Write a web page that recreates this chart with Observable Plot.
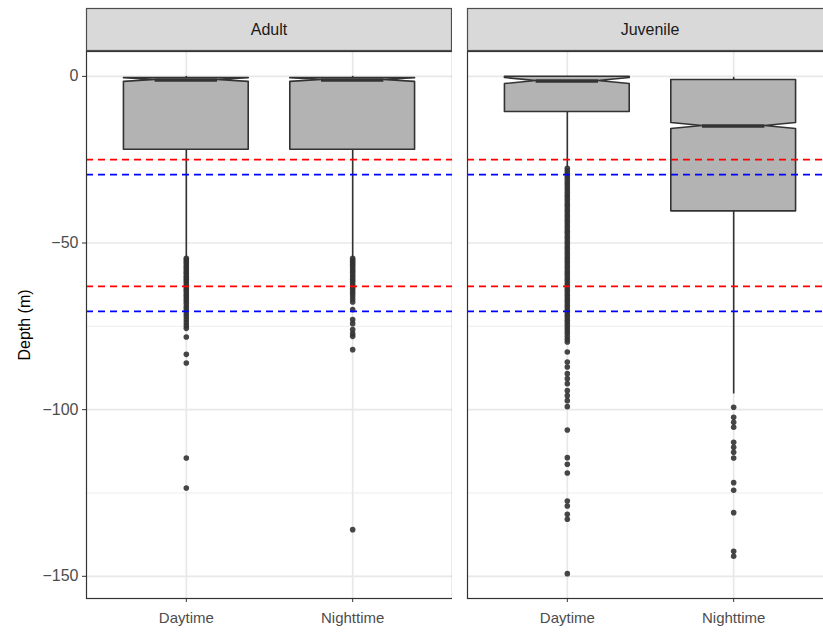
<!DOCTYPE html>
<html><head><meta charset="utf-8">
<script src="https://cdn.jsdelivr.net/npm/d3@7"></script>
<script src="https://cdn.jsdelivr.net/npm/@observablehq/plot@0.6"></script>
<style>
body{margin:0;background:#fff;overflow:hidden;}
#row{display:flex;width:823px;height:633px;overflow:hidden;}
#row svg{display:block;flex:none;}
g[aria-label="y-axis tick"], g[aria-label="x-axis tick"]{color:#333;}
g[aria-label="y-axis label"] text{fill:#000;}
</style></head><body><div id="row"></div>
<script>
// ---- data ----
const panels = ["Adult", "Juvenile"];
const timeLabels = ["Daytime", "Nighttime"];
const boxPanel = ["Adult", "Adult", "Juvenile", "Juvenile"];
const boxTime = ["Daytime", "Nighttime", "Daytime", "Nighttime"];
const q1 = [-22.0, -22.0, -10.7, -40.5];
const median = [-1.1, -1.1, -1.4, -14.9];
const q3 = [-0.5, -0.5, -0.1, -1.1];
const notchHalf = [0.55, 0.55, 0.9, 0.9];
const whiskerLow = [-54.5, -54.5, -27.4, -95.3];
const whiskerHigh = [0, 0, 0, -0.3];

const adultDayOut = [-54.6,-55.1,-55.7,-56.2,-56.9,-57.4,-58.0,-58.6,-59.1,-59.8,-60.3,-60.9,-61.4,-62.0,-62.7,-63.2,-63.8,-64.3,-64.9,-65.6,-66.1,-66.8,-67.4,-68.1,-68.9,-69.6,-70.4,-71.3,-72.1,-73.0,-73.9,-74.8,-75.6,-78.2,-83.4,-86.0,-114.5,-123.5];
const adultNightOut = [-54.6,-55.2,-55.8,-56.4,-57.0,-57.7,-58.3,-58.9,-59.6,-60.2,-60.9,-61.5,-62.2,-62.9,-63.6,-64.3,-65.1,-65.9,-66.8,-67.7,-70.0,-73.0,-74.2,-76.0,-77.2,-78.0,-82.0,-136.0];
const juvDayOut = [-27.6,-28.3,-29.1,-29.8,-30.4,-31.2,-31.9,-32.5,-33.3,-34.0,-34.8,-35.5,-36.1,-36.9,-37.6,-38.4,-39.0,-39.8,-40.5,-41.3,-42.0,-42.8,-43.5,-44.2,-45.0,-45.7,-46.5,-47.1,-47.9,-48.6,-49.4,-50.1,-50.9,-51.6,-52.3,-53.1,-53.8,-54.6,-55.3,-56.0,-56.8,-57.5,-58.3,-59.0,-59.7,-60.5,-61.2,-62.0,-62.7,-63.5,-64.2,-64.9,-65.7,-66.4,-67.2,-67.9,-68.7,-69.4,-70.2,-70.9,-71.7,-72.4,-73.2,-73.9,-74.7,-75.5,-76.3,-77.1,-78.0,-78.9,-79.7,-82.7,-85.7,-87.2,-89.2,-90.7,-92.2,-94.3,-95.8,-97.3,-99.1,-106.1,-114.4,-116.4,-119.0,-127.4,-128.9,-131.4,-132.9,-149.2];
const juvNightOut = [-99.3,-102.3,-103.8,-105.3,-109.8,-111.3,-112.8,-114.5,-121.9,-124.2,-130.9,-142.5,-144.0];
const outliers = [adultDayOut, adultNightOut, juvDayOut, juvNightOut];

const refDepths = [-25, -29.5, -63, -70.5];
const refColors = ["#ff0000", "#0000ff", "#ff0000", "#0000ff"];
const yTicks = [0, -50, -100, -150];
const yMinor = [-25, -75, -125];

// ---- derived tables ----
const xpos = t => timeLabels.indexOf(t) + 1;
const HALF = 0.375, INDENT = 0.1875;
const boxes = boxPanel.map((p, i) => ({
  id: i, panel: p, time: boxTime[i], x: xpos(boxTime[i]),
  q1: q1[i], med: median[i], q3: q3[i], nh: notchHalf[i],
  lo: whiskerLow[i], hi: whiskerHigh[i]
}));
const polys = boxes.flatMap(b => [
  {id: b.id, panel: b.panel, y: b.q3, x1: b.x - HALF, x2: b.x + HALF},
  {id: b.id, panel: b.panel, y: b.med + b.nh, x1: b.x - HALF, x2: b.x + HALF},
  {id: b.id, panel: b.panel, y: b.med, x1: b.x - HALF + INDENT, x2: b.x + HALF - INDENT},
  {id: b.id, panel: b.panel, y: b.med - b.nh, x1: b.x - HALF, x2: b.x + HALF},
  {id: b.id, panel: b.panel, y: b.q1, x1: b.x - HALF, x2: b.x + HALF}
]);
const dots = boxes.flatMap((b, i) => outliers[i].map(v => ({panel: b.panel, x: b.x, y: v})));
const refs = refDepths.map((d, i) => ({y: d, color: refColors[i]}));

const allY = [...dots.map(d => d.y), ...whiskerHigh, ...q3];
const yMin = d3.min(allY), yMax = d3.max(allY), pad = (yMax - yMin) * 0.05;
const yDomain = [yMin - pad, yMax + pad];

function panelPlot(panel, first) {
  const ml = first ? 86 : 15;
  const bx = boxes.filter(b => b.panel === panel);
  const strip = (index, scales, values, dims) => {
    const g = d3.create("svg:g");
    const x0 = dims.marginLeft, x1 = dims.width - dims.marginRight;
    g.append("rect").attr("x", x0 + 0.5).attr("y", 8.5).attr("width", x1 - x0 - 1).attr("height", dims.marginTop - 9)
      .attr("fill", "#d9d9d9").attr("stroke", "#4d4d4d").attr("stroke-width", 1.2);
    g.append("text").attr("x", (x0 + x1) / 2).attr("y", (8 + dims.marginTop) / 2).attr("dy", "0.35em")
      .attr("text-anchor", "middle").attr("fill", "#1a1a1a").style("font-size", "16px").text(panel);
    return g.node();
  };
  return Plot.plot({
    width: ml + 366, height: 633,
    marginLeft: ml, marginRight: 0, marginTop: 51, marginBottom: 35,
    style: {fontFamily: "'Liberation Sans', Arial, sans-serif", fontSize: "15px", color: "#4d4d4d", background: "#fff", overflow: "visible"},
    x: {domain: [0.4, 2.6]},
    y: {domain: yDomain, axis: first ? undefined : null},
    marks: [
      Plot.ruleY(yMinor, {stroke: "#ebebeb", strokeWidth: 0.9}),
      Plot.ruleY(yTicks, {stroke: "#e8e8e8", strokeWidth: 1.7}),
      Plot.ruleX(timeLabels.map(xpos), {stroke: "#e8e8e8", strokeWidth: 1.7}),
      Plot.ruleX(bx, {x: "x", y1: "q1", y2: "lo", stroke: "#333", strokeWidth: 1.6}),
      Plot.ruleX(bx, {x: "x", y1: "q3", y2: "hi", stroke: "#333", strokeWidth: 1.6}),
      Plot.areaX(polys.filter(d => d.panel === panel), {y: "y", x1: "x1", x2: "x2", z: "id", fill: "#b3b3b3", stroke: "#333", strokeWidth: 1.6, strokeLinejoin: "round"}),
      Plot.ruleY(bx, {y: "med", x1: d => d.x - HALF + INDENT, x2: d => d.x + HALF - INDENT, stroke: "#333", strokeWidth: 3.5}),
      Plot.dot(dots.filter(d => d.panel === panel), {x: "x", y: "y", r: 2.8, fill: "#333", fillOpacity: 0.9, stroke: "none"}),
      Plot.ruleY(refs, {y: "y", stroke: "color", strokeWidth: 1.8, strokeDasharray: "7,5"}),
      Plot.frame({stroke: "#333", strokeWidth: 1.2}),
      Plot.axisX({ticks: timeLabels.map(xpos), tickFormat: d => timeLabels[d - 1], tickSize: 4, tickPadding: 10, label: null}),
      ...(first ? [Plot.axisY({ticks: yTicks, tickSize: 4, tickPadding: 4, fontSize: 16, label: "Depth (m)", labelAnchor: "center", labelArrow: "none", labelOffset: 68})] : []),
      strip
    ]
  });
}

const row = document.getElementById("row");
row.appendChild(panelPlot("Adult", true));
row.appendChild(panelPlot("Juvenile", false));
</script>
</body></html>
